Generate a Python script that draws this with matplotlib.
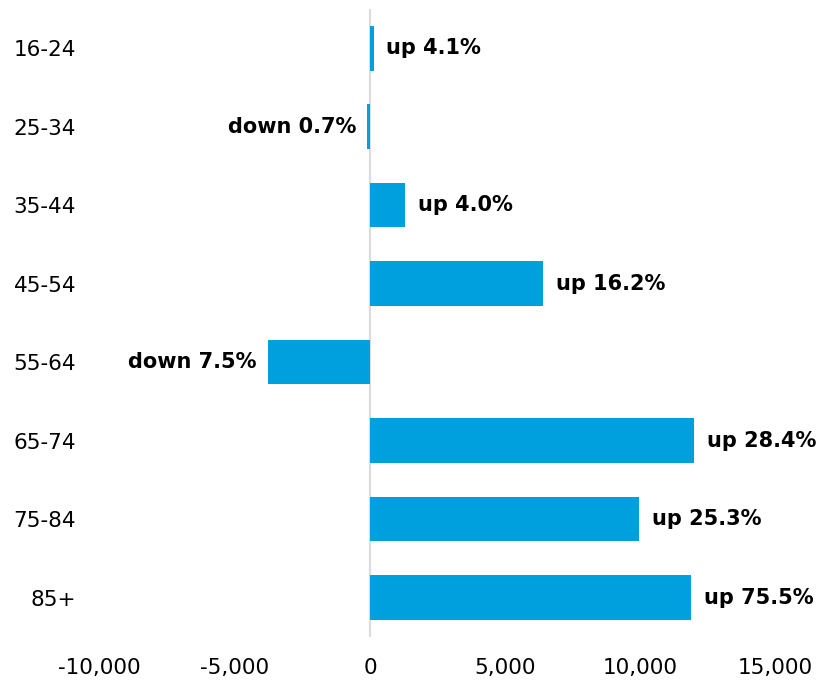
import matplotlib
matplotlib.use("Agg")
import matplotlib.pyplot as plt
from matplotlib.ticker import FuncFormatter, FixedLocator

categories = ["16-24", "25-34", "35-44", "45-54", "55-64", "65-74", "75-84", "85+"]
changes = [130, -110, 1310, 6410, -3780, 12000, 9960, 11890]
labels = ["up 4.1%", "down 0.7%", "up 4.0%", "up 16.2%", "down 7.5%",
          "up 28.4%", "up 25.3%", "up 75.5%"]
xticks = [-10000, -5000, 0, 5000, 10000, 15000]

bar_color = "#00A0DE"

fig = plt.figure(figsize=(8.18, 6.84), dpi=100)
ax = fig.add_axes([0.122, 0.069, 0.826, 0.918])

ypos = list(range(len(categories)))
ax.barh(ypos, changes, height=0.57, color=bar_color, zorder=3)
ax.axvline(0, color="#DCDCDC", lw=1.6, zorder=2)

ax.set_ylim(len(categories) - 0.5, -0.5)
ax.set_xlim(-10000, 15000)
ax.set_yticks(ypos)
ax.set_yticklabels(categories)
ax.xaxis.set_major_locator(FixedLocator(xticks))
ax.xaxis.set_major_formatter(FuncFormatter(lambda v, p: "{:,.0f}".format(v).replace("\u2212", "-")))

ax.tick_params(axis="y", length=0, pad=17, labelsize=15.5)
ax.tick_params(axis="x", length=0, pad=15, labelsize=15.5)
for s in ax.spines.values():
    s.set_visible(False)

for y, v, lab in zip(ypos, changes, labels):
    if v >= 0:
        ax.annotate(lab, (v, y), xytext=(9, 0), textcoords="offset points",
                    ha="left", va="center", fontsize=15, fontweight="bold")
    else:
        ax.annotate(lab, (v, y), xytext=(-8, 0), textcoords="offset points",
                    ha="right", va="center", fontsize=15, fontweight="bold")

fig.savefig("out.png", dpi=100)
